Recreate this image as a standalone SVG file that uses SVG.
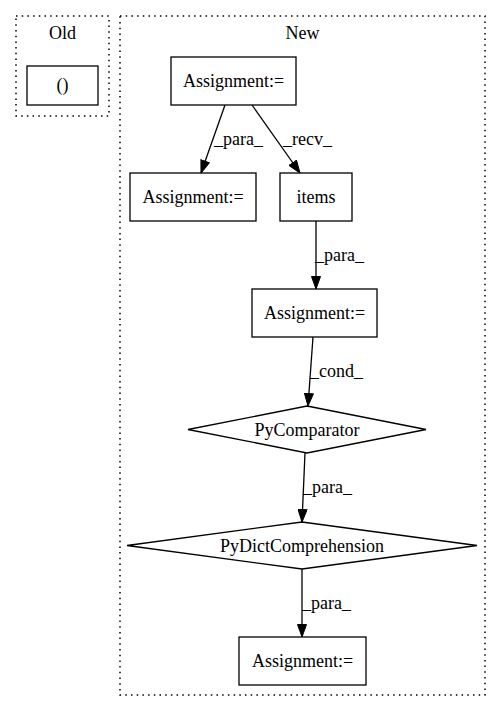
<svg xmlns="http://www.w3.org/2000/svg" width="501" height="712" viewBox="0 0 501 712">
<style>
text{font-family:"Liberation Serif","Times New Roman",serif;font-size:18px;fill:#000}
.c{text-anchor:middle}
.cl{fill:none;stroke:#000;stroke-dasharray:1.5,4.2;stroke-width:1.5}
.n{fill:none;stroke:#000;stroke-width:1.3}
.e{fill:none;stroke:#000;stroke-width:1.3}
</style>
<defs>
<marker id="ah" markerWidth="13" markerHeight="10" refX="13" refY="5" orient="auto" markerUnits="userSpaceOnUse">
<path d="M0.5,0.5 L13,5 L0.5,9.5 Z" fill="#000" stroke="#000"/>
</marker>
</defs>
<rect width="501" height="712" fill="#fff"/>
<g id="cluster_old">
<rect class="cl" x="16" y="16" width="93" height="100"/>
<text class="c" x="62.5" y="39">Old</text>
</g>
<g id="cluster_new">
<rect class="cl" x="120" y="16" width="365" height="679"/>
<text class="c" x="302.5" y="39">New</text>
</g>
<g id="n_old">
<rect class="n" x="27" y="66" width="71" height="39"/>
<text class="c" x="62.5" y="91">()</text>
</g>
<g id="n_a1">
<rect class="n" x="171" y="57" width="125" height="48"/>
<text class="c" x="233.5" y="87">Assignment:=</text>
</g>
<g id="n_a2">
<rect class="n" x="130" y="173" width="126" height="48"/>
<text class="c" x="193" y="203">Assignment:=</text>
</g>
<g id="n_items">
<rect class="n" x="280" y="173" width="72" height="48"/>
<text class="c" x="316" y="203">items</text>
</g>
<g id="n_a3">
<rect class="n" x="252" y="289" width="125" height="48"/>
<text class="c" x="314.5" y="319">Assignment:=</text>
</g>
<g id="n_cmp">
<polygon class="n" points="307,406 426,429.5 307,453 188,429.5"/>
<text class="c" x="307" y="435.5">PyComparator</text>
</g>
<g id="n_dict">
<polygon class="n" points="302,522 477,545.5 302,569 127,545.5"/>
<text class="c" x="302" y="551.5">PyDictComprehension</text>
</g>
<g id="n_a4">
<rect class="n" x="239" y="637" width="127" height="48"/>
<text class="c" x="302.5" y="667">Assignment:=</text>
</g>
<g id="edges">
<line class="e" x1="225" y1="105" x2="201" y2="173" marker-end="url(#ah)"/>
<text x="214" y="145">_para_</text>
<line class="e" x1="252" y1="105" x2="300" y2="173" marker-end="url(#ah)"/>
<text x="283" y="145">_recv_</text>
<line class="e" x1="316" y1="221" x2="316" y2="289" marker-end="url(#ah)"/>
<text x="315" y="261">_para_</text>
<line class="e" x1="313" y1="337" x2="308" y2="406" marker-end="url(#ah)"/>
<text x="310" y="377">_cond_</text>
<line class="e" x1="305" y1="453" x2="302" y2="522" marker-end="url(#ah)"/>
<text x="303" y="493">_para_</text>
<line class="e" x1="302" y1="569" x2="302" y2="637" marker-end="url(#ah)"/>
<text x="302" y="609">_para_</text>
</g>
</svg>
